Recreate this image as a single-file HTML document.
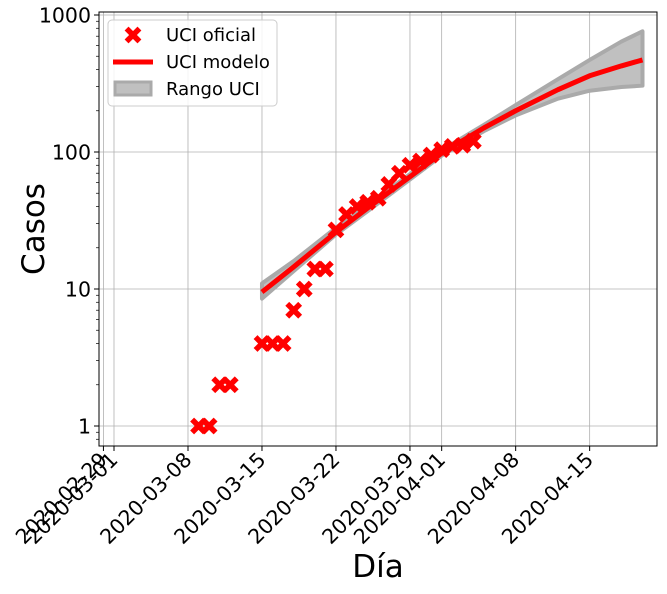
<!DOCTYPE html>
<html><head><meta charset="utf-8"><style>
body{margin:0;background:#fff;font-family:"Liberation Sans","DejaVu Sans",sans-serif}
svg text{font-family:"DejaVu Sans","Liberation Sans",sans-serif}
</style></head><body>
<svg id="c" width="667" height="589" xmlns="http://www.w3.org/2000/svg"></svg>
<script>
const obsDays=[8,9,10,11,14,15,16,17,18,19,20,21,22,23,24,25,26,27,28,29,30,31,32,33,34];
const obsVals=[1,1,2,2,4,4,4,7,10,14,14,27,35,40,43,46,58,70,80,86,95,104,110,112,120];
const modelDays=[14,17,21,24,28,31,35,38,42,45,48,50];
const modelVals=[9.5,14.5,26,39,66,98,150,200,285,360,425,470];
const upperVals=[11,16,28,41,69,103,158,220,340,470,640,760];
const lowerVals=[8.5,13.5,25,37,63,94,142,185,245,280,298,305];
const xTickDays=[-1,0,7,14,21,28,31,38,45];
const xTickLabels=["2020-02-29","2020-03-01","2020-03-08","2020-03-15","2020-03-22","2020-03-29","2020-04-01","2020-04-08","2020-04-15"];
const yTickVals=[1,10,100,1000];
const yTickLabels=["1","10","100","1000"];

const NS="http://www.w3.org/2000/svg",svg=document.getElementById('c');
const L=99,R=657,T=12,B=446;
const X=d=>114+10.57*d;
const Y=v=>426-137*Math.log10(v);
function el(t,a,p){const e=document.createElementNS(NS,t);for(const k in a)e.setAttribute(k,a[k]);(p||svg).appendChild(e);return e;}
const grid=el('g',{});


xTickDays.forEach((d,i)=>{
  const l=el('line',{x1:X(d),x2:X(d),y1:T,y2:B,stroke:'#b0b0b0','stroke-width':0.8},grid);
  
  
  el('line',{x1:X(d),x2:X(d),y1:B,y2:B+5,stroke:'#000','stroke-width':1});
  const t=el('text',{x:X(d)+5,y:B+15,'font-size':20.5,'text-anchor':'end',transform:`rotate(-45 ${X(d)+5} ${B+15})`});
  t.textContent=xTickLabels[i];
  
  
});
yTickVals.forEach((v,i)=>{
  const l=el('line',{x1:L,x2:R,y1:Y(v),y2:Y(v),stroke:'#b0b0b0','stroke-width':0.8},grid);
  
  
  el('line',{x1:L-5,x2:L,y1:Y(v),y2:Y(v),stroke:'#000'});
  const t=el('text',{x:L-8,y:Y(v)+7.5,'font-size':20.5,'text-anchor':'end'});
  t.textContent=yTickLabels[i];
  
  
});
for(let dec=0;dec<3;dec++)for(let m=2;m<10;m++){const v=m*Math.pow(10,dec);el('line',{x1:L-3,x2:L,y1:Y(v),y2:Y(v),stroke:'#000','stroke-width':0.7});}
el('line',{x1:L-3,x2:L,y1:Y(0.9),y2:Y(0.9),stroke:'#000','stroke-width':0.7});
el('line',{x1:L-3,x2:L,y1:Y(0.8),y2:Y(0.8),stroke:'#000','stroke-width':0.7});
let pts=modelDays.map((d,i)=>X(d)+','+Y(upperVals[i]));
pts=pts.concat(modelDays.slice().reverse().map((d,j)=>X(d)+','+Y(lowerVals[modelDays.length-1-j])));
const band=el('polygon',{points:pts.join(' '),fill:'#c0c0c0',stroke:'#aaa','stroke-width':4,'stroke-linejoin':'round'});


const ln=el('polyline',{points:modelDays.map((d,i)=>X(d)+','+Y(modelVals[i])).join(' '),fill:'none',stroke:'#ff0000','stroke-width':5,'stroke-linejoin':'round'});


function cross(cx,cy,p){const g=el('g',{},p);el('path',{d:`M${cx-4.5} ${cy-4.5}L${cx+4.5} ${cy+4.5}M${cx-4.5} ${cy+4.5}L${cx+4.5} ${cy-4.5}`,stroke:'#ff0000','stroke-width':5.5,'stroke-linecap':'square'},g);return g;}
obsDays.forEach((d,i)=>{const g=cross(X(d),Y(obsVals[i]));
  
  });
const fr=el('rect',{x:L,y:T,width:R-L,height:B-T,fill:'none',stroke:'#000','stroke-width':1});


const lg=el('g',{});


el('rect',{x:108,y:20,width:169,height:86,rx:4,fill:'#fff','fill-opacity':0.85,stroke:'#ccc'},lg);
const e1=cross(133,35,lg);


el('line',{x1:113,x2:153,y1:62,y2:62,stroke:'#ff0000','stroke-width':5},lg);
el('rect',{x:115,y:82,width:36,height:13,fill:'#c0c0c0',stroke:'#aaa','stroke-width':3},lg);
[["UCI oficial",41],["UCI modelo",68],["Rango UCI",95]].forEach(([s,y])=>{const t=el('text',{x:166,y:y,'font-size':18},lg);t.textContent=s;
  
  });
const yl=el('text',{x:0,y:0,'font-size':31,'text-anchor':'middle',transform:'translate(44 229) rotate(-90)'});
yl.textContent='Casos';


const xl=el('text',{x:378,y:577,'font-size':31,'text-anchor':'middle'});
xl.textContent='Día';


</script>
</body></html>
